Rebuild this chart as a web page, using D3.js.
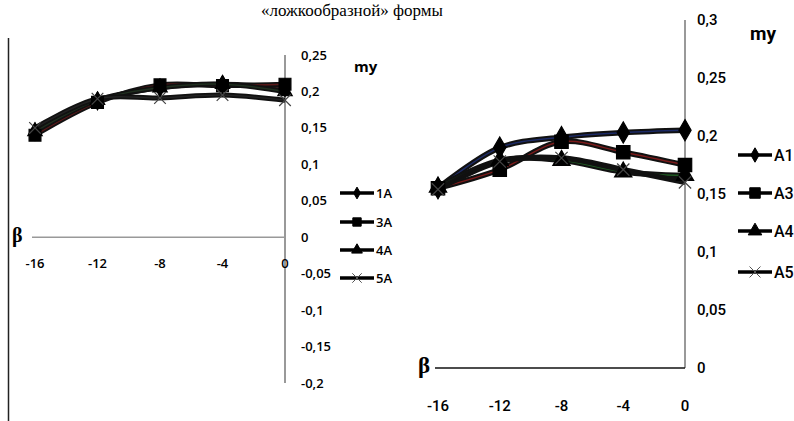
<!DOCTYPE html>
<html>
<head>
<meta charset="utf-8">
<script src="https://cdn.jsdelivr.net/npm/d3@7"></script>
<style>
  body { margin: 0; background: #fff; }
  svg { display: block; }
</style>
</head>
<body>
<div id="chart"></div>
<script>
// beta values on the x axis
let betas = [-16, -12, -8, -4, 0];

// left panel series
let leftNames = ["1A", "3A", "4A", "5A"];
let left1A = [0.145, 0.187, 0.205, 0.210, 0.205];
let left3A = [0.140, 0.185, 0.209, 0.208, 0.210];
let left4A = [0.145, 0.188, 0.205, 0.210, 0.200];
let left5A = [0.150, 0.190, 0.191, 0.195, 0.188];
let leftYTicks = [0.25, 0.2, 0.15, 0.1, 0.05, 0, -0.05, -0.1, -0.15, -0.2];

// right panel series
let rightNames = ["A1", "A3", "A4", "A5"];
let rightA1 = [0.155, 0.190, 0.199, 0.203, 0.205];
let rightA3 = [0.155, 0.171, 0.195, 0.186, 0.175];
let rightA4 = [0.156, 0.179, 0.179, 0.169, 0.166];
let rightA5 = [0.154, 0.178, 0.181, 0.171, 0.160];
let rightYTicks = [0.3, 0.25, 0.2, 0.15, 0.1, 0.05, 0];

let xTicks = [-16, -12, -8, -4, 0];

let W = 794, H = 421;
let fmt = function(v){ return String(v).replace(".", ","); };

let svg = d3.select("#chart").append("svg")
  .attr("width", W).attr("height", H);

// caption at the top of the page
svg.append("text")
  .attr("x", 352).attr("y", 16)
  .attr("text-anchor", "middle")
  .style("font-family", "'Liberation Serif', 'DejaVu Serif', serif")
  .style("font-size", "17px")
  .text("«ложкообразной» формы");

// frame line on the left
svg.append("line")
  .attr("x1", 8.5).attr("x2", 8.5).attr("y1", 38).attr("y2", H)
  .style("stroke", "#222").style("stroke-width", 1.5);

let symbols = [d3.symbolDiamond, d3.symbolSquare, d3.symbolTriangle, d3.symbolTimes];

function panel(opt)
{
  let x = d3.scaleLinear().domain([-16, 0]).range(opt.xr);
  let y = d3.scaleLinear().domain(opt.yd).range(opt.yr);
  let g = svg.append("g");

  // y axis line (grey) at beta = 0
  g.append("line")
    .attr("x1", x(0)).attr("x2", x(0))
    .attr("y1", y(opt.yd[1])).attr("y2", y(opt.yd[0]))
    .style("stroke", "#999").style("stroke-width", 2);

  // x axis at value 0
  g.append("line")
    .attr("x1", opt.xr[0] - 3).attr("x2", x(0))
    .attr("y1", y(0)).attr("y2", y(0))
    .style("stroke", opt.xAxisColor).style("stroke-width", 1.5);

  g.selectAll(".ytick").data(opt.yTicks).enter().append("text")
    .attr("x", x(0) + opt.yLabelDx)
    .attr("y", function(d){ return y(d); })
    .attr("dy", "0.35em")
    .style("font-family", opt.font)
    .style("font-weight", opt.fw)
    .style("font-size", opt.fs + "px")
    .text(fmt);

  g.selectAll(".xtick").data(xTicks).enter().append("text")
    .attr("x", function(d){ return x(d); })
    .attr("y", opt.xLabelY)
    .attr("text-anchor", "middle")
    .style("font-family", opt.font)
    .style("font-weight", opt.fw)
    .style("font-size", opt.fs + "px")
    .text(function(d){ return d; });

  g.append("text")
    .attr("x", opt.betaX).attr("y", y(0) + 5)
    .style("font-family", "'Liberation Serif', serif")
    .style("font-weight", "bold")
    .style("font-size", opt.betaFs + "px")
    .text("β");

  g.append("text")
    .attr("x", opt.myX).attr("y", opt.myY)
    .style("font-family", opt.font)
    .style("font-weight", "bold")
    .style("font-size", opt.myFs + "px")
    .text("my");

  let line = d3.line()
    .x(function(d, i){ return x(betas[i]); })
    .y(function(d){ return y(d); })
    .curve(d3.curveCatmullRom);

  opt.series.forEach(function(s, k){
    g.append("path")
      .attr("d", line(s))
      .style("fill", "none")
      .style("stroke", "#111")
      .style("stroke-width", opt.lw);
    g.append("path")
      .attr("d", line(s))
      .style("fill", "none")
      .style("stroke", opt.colors[k])
      .style("stroke-width", 1.5);
  });

  opt.series.forEach(function(s, k){
    let sym = d3.symbol().type(symbols[k]).size(opt.symSize[k]);
    g.selectAll(".m" + k).data(s).enter().append("path")
      .attr("transform", function(d, i){ return "translate(" + x(betas[i]) + "," + y(d) + ")"; })
      .attr("d", sym)
      .style("fill", k == 3 ? "none" : "#000")
      .style("stroke", k == 3 ? "#444" : "#000")
      .style("stroke-width", 1.2);
  });

  // legend
  opt.names.forEach(function(n, k){
    let ly = opt.legY[k];
    g.append("line")
      .attr("x1", opt.legX).attr("x2", opt.legX + opt.legW)
      .attr("y1", ly).attr("y2", ly)
      .style("stroke", "#000").style("stroke-width", 3.5);
    g.append("path")
      .attr("transform", "translate(" + (opt.legX + opt.legW / 2) + "," + ly + ")")
      .attr("d", d3.symbol().type(symbols[k]).size(opt.legSym[k]))
      .style("fill", k == 3 ? "none" : "#000")
      .style("stroke", k == 3 ? "#555" : "#000");
    g.append("text")
      .attr("x", opt.legX + opt.legW + 2).attr("y", ly)
      .attr("dy", "0.35em")
      .style("font-family", opt.font)
      .style("font-weight", opt.fw)
      .style("font-size", opt.legFs + "px")
      .text(n);
  });
}

panel({
  xr: [35, 285], yd: [-0.2, 0.25], yr: [383, 55],
  yTicks: leftYTicks, yLabelDx: 16, xLabelY: 268, fs: 13, fw: 600,
  font: "'Open Sans', 'DejaVu Sans', sans-serif",
  xAxisColor: "#999", lw: 5,
  betaX: 12, betaFs: 20, myX: 354, myY: 72, myFs: 15,
  series: [left1A, left3A, left4A, left5A],
  colors: ["#3a2222", "#5a1818", "#1f2f1f", "#222"],
  symSize: [90, 140, 90, 90],
  names: leftNames, legX: 340, legW: 34, legY: [193, 222, 250, 278], legFs: 13,
  legSym: [40, 70, 50, 60]
});

panel({
  xr: [438, 685], yd: [0, 0.3], yr: [368, 20],
  yTicks: rightYTicks, yLabelDx: 12, xLabelY: 411, fs: 15, fw: 500,
  font: "'Roboto', 'Open Sans', sans-serif",
  xAxisColor: "#111", lw: 5.5,
  betaX: 418, betaFs: 23, myX: 750, myY: 40, myFs: 19,
  series: [rightA1, rightA3, rightA4, rightA5],
  colors: ["#1c2a66", "#7a1a1a", "#1f5a22", "#111"],
  symSize: [130, 180, 130, 100],
  names: rightNames, legX: 738, legW: 34, legY: [155, 193, 231, 272], legFs: 16,
  legSym: [60, 110, 80, 80]
});
</script>
</body>
</html>
